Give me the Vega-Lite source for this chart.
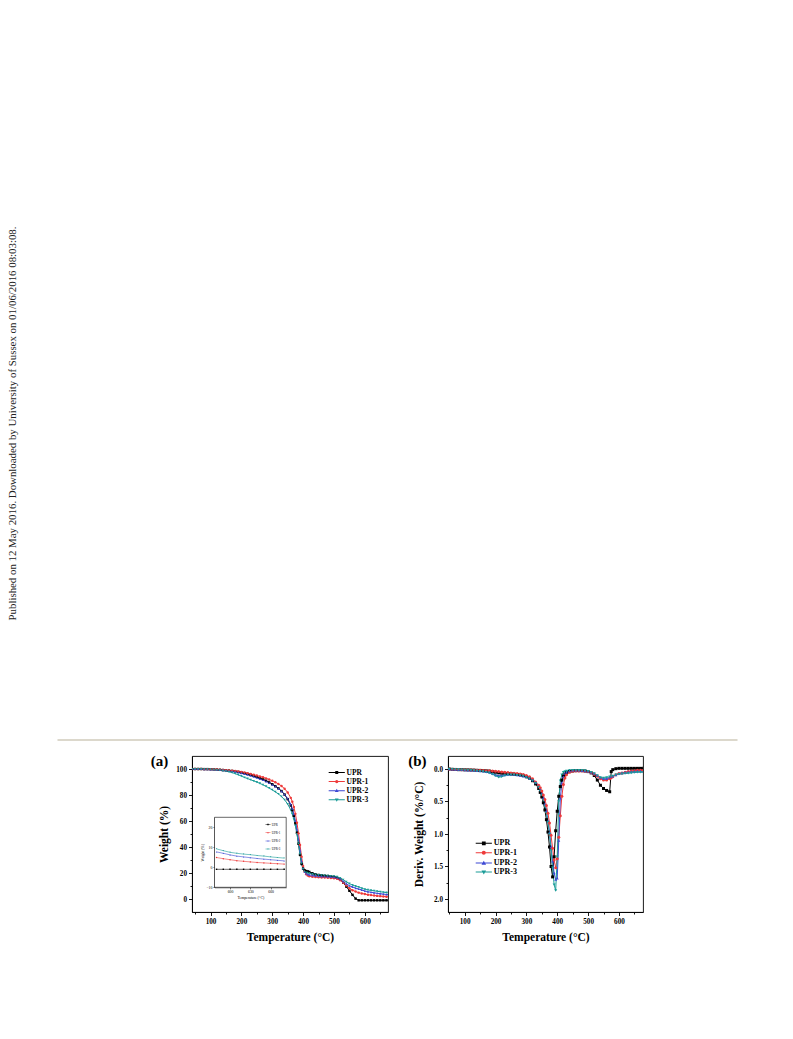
{
  "$schema": "https://vega.github.io/schema/vega-lite/v6.json",
  "background": "white",
  "padding": {"left": 7, "top": 0, "right": 2, "bottom": 2},
  "bounds": "flush",
  "spacing": 11,
  "config": {
    "view": {"stroke": "black", "strokeWidth": 0.9},
    "axis": {
      "domainColor": "black", "domainWidth": 0.9, "tickColor": "black", "tickWidth": 0.9,
      "labelColor": "black", "titleColor": "black", "grid": false,
      "labelFont": "Liberation Serif", "titleFont": "Liberation Serif",
      "labelFontWeight": "bold", "titleFontWeight": "bold",
      "labelFontSize": 7.2, "titleFontSize": 11.5, "labelPadding": 2,
      "labelFlush": false, "labelOverlap": false
    },
    "legend": {"labelFont": "Liberation Serif", "labelColor": "black", "labelFontWeight": "bold"}
  },
  "datasets": {
    "names": [{"series": "UPR"}, {"series": "UPR-1"}, {"series": "UPR-2"}, {"series": "UPR-3"}],
    "tga": [
      {"T": 40, "UPR": 100, "UPR-1": 100, "UPR-2": 100, "UPR-3": 100},
      {"T": 50, "UPR": 100, "UPR-1": 100, "UPR-2": 100, "UPR-3": 100},
      {"T": 60, "UPR": 100, "UPR-1": 100, "UPR-2": 100, "UPR-3": 100},
      {"T": 70, "UPR": 100, "UPR-1": 100, "UPR-2": 100, "UPR-3": 99.9},
      {"T": 80, "UPR": 99.9, "UPR-1": 99.9, "UPR-2": 99.9, "UPR-3": 99.8},
      {"T": 90, "UPR": 99.9, "UPR-1": 99.9, "UPR-2": 99.8, "UPR-3": 99.7},
      {"T": 100, "UPR": 99.8, "UPR-1": 99.8, "UPR-2": 99.7, "UPR-3": 99.6},
      {"T": 110, "UPR": 99.7, "UPR-1": 99.7, "UPR-2": 99.6, "UPR-3": 99.4},
      {"T": 120, "UPR": 99.6, "UPR-1": 99.6, "UPR-2": 99.4, "UPR-3": 99.2},
      {"T": 130, "UPR": 99.4, "UPR-1": 99.5, "UPR-2": 99.3, "UPR-3": 99.0},
      {"T": 140, "UPR": 99.2, "UPR-1": 99.3, "UPR-2": 99.1, "UPR-3": 98.7},
      {"T": 150, "UPR": 99.0, "UPR-1": 99.1, "UPR-2": 98.8, "UPR-3": 98.3},
      {"T": 160, "UPR": 98.8, "UPR-1": 98.9, "UPR-2": 98.5, "UPR-3": 97.8},
      {"T": 170, "UPR": 98.5, "UPR-1": 98.7, "UPR-2": 98.2, "UPR-3": 97.2},
      {"T": 180, "UPR": 98.2, "UPR-1": 98.4, "UPR-2": 97.8, "UPR-3": 96.4},
      {"T": 190, "UPR": 97.8, "UPR-1": 98.1, "UPR-2": 97.3, "UPR-3": 95.5},
      {"T": 200, "UPR": 97.3, "UPR-1": 97.7, "UPR-2": 96.8, "UPR-3": 94.5},
      {"T": 210, "UPR": 96.8, "UPR-1": 97.3, "UPR-2": 96.2, "UPR-3": 93.5},
      {"T": 220, "UPR": 96.2, "UPR-1": 96.8, "UPR-2": 95.6, "UPR-3": 92.6},
      {"T": 230, "UPR": 95.5, "UPR-1": 96.2, "UPR-2": 94.9, "UPR-3": 91.7},
      {"T": 240, "UPR": 94.8, "UPR-1": 95.6, "UPR-2": 94.1, "UPR-3": 90.8},
      {"T": 250, "UPR": 94.0, "UPR-1": 95.0, "UPR-2": 93.3, "UPR-3": 89.9},
      {"T": 260, "UPR": 93.1, "UPR-1": 94.3, "UPR-2": 92.4, "UPR-3": 88.9},
      {"T": 270, "UPR": 92.1, "UPR-1": 93.6, "UPR-2": 91.5, "UPR-3": 87.8},
      {"T": 280, "UPR": 91.0, "UPR-1": 92.8, "UPR-2": 90.5, "UPR-3": 86.6},
      {"T": 290, "UPR": 89.7, "UPR-1": 91.9, "UPR-2": 89.3, "UPR-3": 85.3},
      {"T": 300, "UPR": 88.3, "UPR-1": 90.9, "UPR-2": 88.0, "UPR-3": 83.9},
      {"T": 310, "UPR": 86.8, "UPR-1": 89.8, "UPR-2": 86.6, "UPR-3": 82.4},
      {"T": 320, "UPR": 85.1, "UPR-1": 88.5, "UPR-2": 85.0, "UPR-3": 80.8},
      {"T": 330, "UPR": 83.0, "UPR-1": 86.9, "UPR-2": 83.0, "UPR-3": 78.8},
      {"T": 340, "UPR": 80.3, "UPR-1": 84.8, "UPR-2": 80.5, "UPR-3": 76.3},
      {"T": 350, "UPR": 76.8, "UPR-1": 82.0, "UPR-2": 77.3, "UPR-3": 73.0},
      {"T": 360, "UPR": 72.0, "UPR-1": 77.8, "UPR-2": 72.8, "UPR-3": 68.5},
      {"T": 365, "UPR": 68.5, "UPR-1": 74.8, "UPR-2": 69.5, "UPR-3": 65.3},
      {"T": 370, "UPR": 64.0, "UPR-1": 70.8, "UPR-2": 65.3, "UPR-3": 61.3},
      {"T": 375, "UPR": 58.3, "UPR-1": 65.5, "UPR-2": 60.0, "UPR-3": 56.3},
      {"T": 380, "UPR": 51.0, "UPR-1": 58.7, "UPR-2": 53.5, "UPR-3": 50.0},
      {"T": 385, "UPR": 42.5, "UPR-1": 50.5, "UPR-2": 45.8, "UPR-3": 42.5},
      {"T": 390, "UPR": 34.0, "UPR-1": 41.5, "UPR-2": 37.3, "UPR-3": 34.5},
      {"T": 395, "UPR": 27.0, "UPR-1": 32.5, "UPR-2": 29.0, "UPR-3": 27.5},
      {"T": 400, "UPR": 23.3, "UPR-1": 25.3, "UPR-2": 23.5, "UPR-3": 23.0},
      {"T": 405, "UPR": 22.0, "UPR-1": 21.0, "UPR-2": 20.8, "UPR-3": 21.2},
      {"T": 410, "UPR": 21.5, "UPR-1": 19.0, "UPR-2": 19.6, "UPR-3": 20.5},
      {"T": 415, "UPR": 21.2, "UPR-1": 18.0, "UPR-2": 19.0, "UPR-3": 20.1},
      {"T": 420, "UPR": 20.8, "UPR-1": 17.5, "UPR-2": 18.6, "UPR-3": 19.8},
      {"T": 430, "UPR": 19.8, "UPR-1": 17.1, "UPR-2": 18.1, "UPR-3": 19.2},
      {"T": 440, "UPR": 19.0, "UPR-1": 16.9, "UPR-2": 17.8, "UPR-3": 18.8},
      {"T": 450, "UPR": 18.5, "UPR-1": 16.7, "UPR-2": 17.6, "UPR-3": 18.5},
      {"T": 460, "UPR": 18.2, "UPR-1": 16.6, "UPR-2": 17.4, "UPR-3": 18.3},
      {"T": 470, "UPR": 17.9, "UPR-1": 16.5, "UPR-2": 17.3, "UPR-3": 18.1},
      {"T": 480, "UPR": 17.7, "UPR-1": 16.4, "UPR-2": 17.2, "UPR-3": 17.9},
      {"T": 490, "UPR": 17.4, "UPR-1": 16.2, "UPR-2": 17.0, "UPR-3": 17.7},
      {"T": 500, "UPR": 17.0, "UPR-1": 16.0, "UPR-2": 16.8, "UPR-3": 17.5},
      {"T": 510, "UPR": 16.2, "UPR-1": 15.5, "UPR-2": 16.3, "UPR-3": 17.0},
      {"T": 520, "UPR": 14.8, "UPR-1": 14.5, "UPR-2": 15.3, "UPR-3": 16.2},
      {"T": 530, "UPR": 12.5, "UPR-1": 12.5, "UPR-2": 13.6, "UPR-3": 14.8},
      {"T": 540, "UPR": 9.5, "UPR-1": 10.3, "UPR-2": 11.8, "UPR-3": 13.2},
      {"T": 550, "UPR": 6.3, "UPR-1": 8.3, "UPR-2": 10.2, "UPR-3": 11.8},
      {"T": 560, "UPR": 3.2, "UPR-1": 6.8, "UPR-2": 9.3, "UPR-3": 10.7},
      {"T": 570, "UPR": 0.3, "UPR-1": 5.7, "UPR-2": 8.4, "UPR-3": 9.9},
      {"T": 580, "UPR": -1, "UPR-1": 4.9, "UPR-2": 7.7, "UPR-3": 9.2},
      {"T": 590, "UPR": -1, "UPR-1": 4.3, "UPR-2": 7.0, "UPR-3": 8.3},
      {"T": 600, "UPR": -1, "UPR-1": 3.8, "UPR-2": 6.2, "UPR-3": 7.5},
      {"T": 610, "UPR": -1, "UPR-1": 3.3, "UPR-2": 5.6, "UPR-3": 7.0},
      {"T": 620, "UPR": -1, "UPR-1": 3.0, "UPR-2": 5.2, "UPR-3": 6.6},
      {"T": 630, "UPR": -1, "UPR-1": 2.7, "UPR-2": 4.8, "UPR-3": 6.3},
      {"T": 640, "UPR": -1, "UPR-1": 2.4, "UPR-2": 4.4, "UPR-3": 5.9},
      {"T": 650, "UPR": -1, "UPR-1": 2.2, "UPR-2": 4.1, "UPR-3": 5.6},
      {"T": 660, "UPR": -1, "UPR-1": 2.0, "UPR-2": 3.8, "UPR-3": 5.2},
      {"T": 670, "UPR": -1, "UPR-1": 1.8, "UPR-2": 3.5, "UPR-3": 4.9},
      {"T": 680, "UPR": -1, "UPR-1": 1.6, "UPR-2": 3.2, "UPR-3": 4.6}
    ],
    "dtg": [
      {"T": 40, "UPR": 0, "UPR-1": 0, "UPR-2": 0, "UPR-3": 0},
      {"T": 50, "UPR": 0, "UPR-1": 0, "UPR-2": 0, "UPR-3": 0},
      {"T": 60, "UPR": 0.005, "UPR-1": 0.004, "UPR-2": 0.005, "UPR-3": 0.005},
      {"T": 70, "UPR": 0.007, "UPR-1": 0.006, "UPR-2": 0.008, "UPR-3": 0.008},
      {"T": 80, "UPR": 0.01, "UPR-1": 0.008, "UPR-2": 0.01, "UPR-3": 0.01},
      {"T": 90, "UPR": 0.01, "UPR-1": 0.01, "UPR-2": 0.012, "UPR-3": 0.013},
      {"T": 100, "UPR": 0.012, "UPR-1": 0.011, "UPR-2": 0.015, "UPR-3": 0.015},
      {"T": 110, "UPR": 0.013, "UPR-1": 0.012, "UPR-2": 0.017, "UPR-3": 0.018},
      {"T": 120, "UPR": 0.015, "UPR-1": 0.014, "UPR-2": 0.02, "UPR-3": 0.02},
      {"T": 130, "UPR": 0.017, "UPR-1": 0.016, "UPR-2": 0.022, "UPR-3": 0.025},
      {"T": 140, "UPR": 0.02, "UPR-1": 0.018, "UPR-2": 0.025, "UPR-3": 0.03},
      {"T": 150, "UPR": 0.022, "UPR-1": 0.02, "UPR-2": 0.03, "UPR-3": 0.035},
      {"T": 160, "UPR": 0.025, "UPR-1": 0.022, "UPR-2": 0.035, "UPR-3": 0.04},
      {"T": 170, "UPR": 0.028, "UPR-1": 0.025, "UPR-2": 0.042, "UPR-3": 0.05},
      {"T": 180, "UPR": 0.032, "UPR-1": 0.028, "UPR-2": 0.05, "UPR-3": 0.06},
      {"T": 190, "UPR": 0.04, "UPR-1": 0.032, "UPR-2": 0.07, "UPR-3": 0.08},
      {"T": 200, "UPR": 0.05, "UPR-1": 0.035, "UPR-2": 0.09, "UPR-3": 0.105},
      {"T": 210, "UPR": 0.06, "UPR-1": 0.04, "UPR-2": 0.105, "UPR-3": 0.125},
      {"T": 220, "UPR": 0.065, "UPR-1": 0.045, "UPR-2": 0.1, "UPR-3": 0.12},
      {"T": 230, "UPR": 0.068, "UPR-1": 0.05, "UPR-2": 0.09, "UPR-3": 0.1},
      {"T": 240, "UPR": 0.07, "UPR-1": 0.055, "UPR-2": 0.085, "UPR-3": 0.09},
      {"T": 250, "UPR": 0.075, "UPR-1": 0.06, "UPR-2": 0.085, "UPR-3": 0.09},
      {"T": 260, "UPR": 0.08, "UPR-1": 0.065, "UPR-2": 0.085, "UPR-3": 0.09},
      {"T": 270, "UPR": 0.085, "UPR-1": 0.07, "UPR-2": 0.09, "UPR-3": 0.095},
      {"T": 280, "UPR": 0.09, "UPR-1": 0.075, "UPR-2": 0.1, "UPR-3": 0.1},
      {"T": 290, "UPR": 0.1, "UPR-1": 0.085, "UPR-2": 0.11, "UPR-3": 0.11},
      {"T": 300, "UPR": 0.12, "UPR-1": 0.1, "UPR-2": 0.12, "UPR-3": 0.13},
      {"T": 310, "UPR": 0.14, "UPR-1": 0.12, "UPR-2": 0.14, "UPR-3": 0.15},
      {"T": 320, "UPR": 0.18, "UPR-1": 0.15, "UPR-2": 0.17, "UPR-3": 0.18},
      {"T": 330, "UPR": 0.23, "UPR-1": 0.2, "UPR-2": 0.21, "UPR-3": 0.22},
      {"T": 340, "UPR": 0.3, "UPR-1": 0.25, "UPR-2": 0.27, "UPR-3": 0.28},
      {"T": 345, "UPR": 0.36, "UPR-1": 0.29, "UPR-2": 0.32, "UPR-3": 0.34},
      {"T": 350, "UPR": 0.43, "UPR-1": 0.34, "UPR-2": 0.38, "UPR-3": 0.4},
      {"T": 355, "UPR": 0.52, "UPR-1": 0.4, "UPR-2": 0.45, "UPR-3": 0.48},
      {"T": 360, "UPR": 0.63, "UPR-1": 0.47, "UPR-2": 0.54, "UPR-3": 0.57},
      {"T": 365, "UPR": 0.78, "UPR-1": 0.56, "UPR-2": 0.65, "UPR-3": 0.68},
      {"T": 370, "UPR": 0.97, "UPR-1": 0.68, "UPR-2": 0.8, "UPR-3": 0.82},
      {"T": 375, "UPR": 1.2, "UPR-1": 0.83, "UPR-2": 0.98, "UPR-3": 1.0},
      {"T": 380, "UPR": 1.5, "UPR-1": 1.02, "UPR-2": 1.2, "UPR-3": 1.25},
      {"T": 385, "UPR": 1.66, "UPR-1": 1.22, "UPR-2": 1.42, "UPR-3": 1.52},
      {"T": 390, "UPR": 1.35, "UPR-1": 1.4, "UPR-2": 1.6, "UPR-3": 1.78},
      {"T": 395, "UPR": 0.95, "UPR-1": 1.52, "UPR-2": 1.7, "UPR-3": 1.87},
      {"T": 400, "UPR": 0.65, "UPR-1": 1.38, "UPR-2": 1.68, "UPR-3": 1.35},
      {"T": 405, "UPR": 0.42, "UPR-1": 1.05, "UPR-2": 1.1, "UPR-3": 0.5},
      {"T": 410, "UPR": 0.27, "UPR-1": 0.72, "UPR-2": 0.45, "UPR-3": 0.18},
      {"T": 415, "UPR": 0.17, "UPR-1": 0.42, "UPR-2": 0.22, "UPR-3": 0.09},
      {"T": 420, "UPR": 0.11, "UPR-1": 0.24, "UPR-2": 0.12, "UPR-3": 0.05},
      {"T": 425, "UPR": 0.08, "UPR-1": 0.14, "UPR-2": 0.07, "UPR-3": 0.04},
      {"T": 430, "UPR": 0.06, "UPR-1": 0.09, "UPR-2": 0.05, "UPR-3": 0.03},
      {"T": 440, "UPR": 0.04, "UPR-1": 0.05, "UPR-2": 0.03, "UPR-3": 0.02},
      {"T": 450, "UPR": 0.03, "UPR-1": 0.035, "UPR-2": 0.02, "UPR-3": 0.02},
      {"T": 460, "UPR": 0.025, "UPR-1": 0.03, "UPR-2": 0.02, "UPR-3": 0.02},
      {"T": 470, "UPR": 0.025, "UPR-1": 0.03, "UPR-2": 0.02, "UPR-3": 0.02},
      {"T": 480, "UPR": 0.025, "UPR-1": 0.03, "UPR-2": 0.025, "UPR-3": 0.02},
      {"T": 490, "UPR": 0.03, "UPR-1": 0.035, "UPR-2": 0.03, "UPR-3": 0.025},
      {"T": 500, "UPR": 0.04, "UPR-1": 0.04, "UPR-2": 0.035, "UPR-3": 0.035},
      {"T": 510, "UPR": 0.06, "UPR-1": 0.055, "UPR-2": 0.05, "UPR-3": 0.05},
      {"T": 520, "UPR": 0.1, "UPR-1": 0.08, "UPR-2": 0.07, "UPR-3": 0.07},
      {"T": 530, "UPR": 0.17, "UPR-1": 0.11, "UPR-2": 0.1, "UPR-3": 0.1},
      {"T": 540, "UPR": 0.25, "UPR-1": 0.15, "UPR-2": 0.13, "UPR-3": 0.13},
      {"T": 550, "UPR": 0.3, "UPR-1": 0.17, "UPR-2": 0.15, "UPR-3": 0.14},
      {"T": 560, "UPR": 0.33, "UPR-1": 0.17, "UPR-2": 0.15, "UPR-3": 0.13},
      {"T": 570, "UPR": 0.35, "UPR-1": 0.15, "UPR-2": 0.13, "UPR-3": 0.12},
      {"T": 575, "UPR": 0.04, "UPR-1": 0.135, "UPR-2": 0.12, "UPR-3": 0.115},
      {"T": 580, "UPR": 0.01, "UPR-1": 0.12, "UPR-2": 0.11, "UPR-3": 0.11},
      {"T": 590, "UPR": -0.005, "UPR-1": 0.09, "UPR-2": 0.09, "UPR-3": 0.09},
      {"T": 600, "UPR": -0.01, "UPR-1": 0.07, "UPR-2": 0.07, "UPR-3": 0.08},
      {"T": 610, "UPR": -0.01, "UPR-1": 0.06, "UPR-2": 0.06, "UPR-3": 0.075},
      {"T": 620, "UPR": -0.01, "UPR-1": 0.05, "UPR-2": 0.05, "UPR-3": 0.07},
      {"T": 630, "UPR": -0.01, "UPR-1": 0.04, "UPR-2": 0.045, "UPR-3": 0.065},
      {"T": 640, "UPR": -0.01, "UPR-1": 0.03, "UPR-2": 0.04, "UPR-3": 0.06},
      {"T": 650, "UPR": -0.01, "UPR-1": 0.025, "UPR-2": 0.035, "UPR-3": 0.055},
      {"T": 660, "UPR": -0.01, "UPR-1": 0.02, "UPR-2": 0.03, "UPR-3": 0.05},
      {"T": 670, "UPR": -0.01, "UPR-1": 0.02, "UPR-2": 0.03, "UPR-3": 0.05},
      {"T": 680, "UPR": -0.01, "UPR-1": 0.02, "UPR-2": 0.03, "UPR-3": 0.05}
    ]
  },
  "vconcat": [
    {
      "width": 600,
      "height": 745,
      "view": {"stroke": null},
      "layer": [
        {
          "data": {"values": [{"px": 57, "px2": 737, "py": 740}]},
          "mark": {"type": "rule", "color": "#dcd8cc", "strokeWidth": 2},
          "encoding": {
            "x": {"field": "px", "type": "quantitative", "scale": {"domain": [191.5, 791.5], "nice": false, "zero": false}, "axis": null},
            "x2": {"field": "px2"},
            "y": {"field": "py", "type": "quantitative", "scale": {"domain": [0, 745], "reverse": true, "nice": false, "zero": false}, "axis": null}
          }
        },
        {
          "data": {"values": [{"px": 12.5, "py": 423.5, "note": "Published on 12 May 2016. Downloaded by University of Sussex on 01/06/2016 08:03:08."}]},
          "mark": {"type": "text", "angle": 270, "font": "Liberation Serif", "fontSize": 10.85, "color": "#222222", "align": "center", "baseline": "middle"},
          "encoding": {
            "x": {"field": "px", "type": "quantitative"},
            "y": {"field": "py", "type": "quantitative"},
            "text": {"field": "note"}
          }
        }
      ]
    },
    {
      "bounds": "flush",
      "spacing": 60,
      "hconcat": [
        {
          "width": 196,
          "height": 156,
          "layer": [
            {
              "layer": [
                {
                  "data": {"name": "tga"},
                  "transform": [{"fold": ["UPR", "UPR-1", "UPR-2", "UPR-3"], "as": ["series", "w"]}],
                  "mark": {"type": "line", "strokeWidth": 1, "clip": true},
                  "encoding": {
                    "x": {"field": "T", "type": "quantitative",
                      "scale": {"domain": [40, 675], "nice": false, "zero": false},
                      "axis": {"values": [100, 200, 300, 400, 500, 600], "labelOverlap": false, "tickSize": 3.5,
                        "title": "Temperature (°C)", "titlePadding": 7}},
                    "y": {"field": "w", "type": "quantitative",
                      "scale": {"domain": [-10, 110], "nice": false, "zero": false},
                      "axis": {"values": [0, 20, 40, 60, 80, 100], "labelOverlap": false, "tickSize": 3.5,
                        "title": "Weight (%)", "titlePadding": 6}},
                    "color": {"field": "series", "type": "nominal",
                      "scale": {"domain": ["UPR", "UPR-1", "UPR-2", "UPR-3"], "range": ["#000000", "#ee3a3a", "#3d48d4", "#1b9c98"]},
                      "legend": null}
                  }
                },
                {
                  "data": {"name": "tga"},
                  "transform": [{"fold": ["UPR", "UPR-1", "UPR-2", "UPR-3"], "as": ["series", "w"]}],
                  "mark": {"type": "point", "filled": true, "size": 6, "opacity": 1, "clip": true},
                  "encoding": {
                    "x": {"field": "T", "type": "quantitative", "axis": null},
                    "y": {"field": "w", "type": "quantitative", "axis": null},
                    "color": {"field": "series", "type": "nominal",
                      "scale": {"domain": ["UPR", "UPR-1", "UPR-2", "UPR-3"], "range": ["#000000", "#ee3a3a", "#3d48d4", "#1b9c98"]},
                      "legend": null},
                    "shape": {"field": "series", "type": "nominal",
                      "scale": {"domain": ["UPR", "UPR-1", "UPR-2", "UPR-3"], "range": ["square", "circle", "triangle-up", "triangle-down"]},
                      "legend": null}
                  }
                },
                {
                  "data": {"name": "names"},
                  "mark": {"type": "point", "filled": true, "opacity": 0},
                  "encoding": {
                    "color": {"field": "series", "type": "nominal",
                      "scale": {"domain": ["UPR", "UPR-1", "UPR-2", "UPR-3"], "range": ["#000000", "#ee3a3a", "#3d48d4", "#1b9c98"]},
                      "legend": {"orient": "none", "legendX": 141, "legendY": 12.8, "title": null, "padding": 0, "symbolSize": 29, "symbolOpacity": 1, "labelOffset": 6.1, "labelFontSize": 7.5, "rowPadding": -1.8}},
                    "shape": {"field": "series", "type": "nominal",
                      "scale": {"domain": ["UPR", "UPR-1", "UPR-2", "UPR-3"], "range": [
                        "M-3,-0.17H3V0.17H-3ZM-0.55,-0.55H0.55V0.55H-0.55Z",
                        "M-3,-0.17H3V0.17H-3ZM0.6,0A0.6,0.6,0,1,1,-0.6,0A0.6,0.6,0,1,1,0.6,0Z",
                        "M-3,-0.17H3V0.17H-3ZM0,-0.7L0.7,0.5H-0.7Z",
                        "M-3,-0.17H3V0.17H-3ZM0,0.7L-0.7,-0.5H0.7Z"]},
                      "legend": {"orient": "none", "legendX": 141, "legendY": 12.8, "title": null, "padding": 0, "symbolSize": 29, "symbolOpacity": 1, "labelOffset": 6.1, "labelFontSize": 7.5, "rowPadding": -1.8}}
                  }
                },
                {
                  "data": {"values": [{"T": -65, "w": 106.4, "tag": "(a)"}]},
                  "mark": {"type": "text", "font": "Liberation Serif", "fontWeight": "bold", "fontSize": 15, "align": "center", "baseline": "middle", "color": "black"},
                  "encoding": {
                    "x": {"field": "T", "type": "quantitative",
                      "axis": {"orient": "bottom", "values": [50, 150, 250, 350, 450, 550, 650], "labels": false, "title": null, "domain": false, "tickSize": 2}},
                    "y": {"field": "w", "type": "quantitative",
                      "axis": {"orient": "left", "values": [10, 30, 50, 70, 90], "labels": false, "title": null, "domain": false, "tickSize": 2}},
                    "text": {"field": "tag"}
                  }
                }
              ],
              "resolve": {"scale": {"color": "independent", "shape": "independent"}, "axis": {"x": "independent", "y": "independent"}}
            },
            {
              "layer": [
                {
                  "data": {"values": [{"T": 577, "T2": 683, "w": -10, "w2": 25}]},
                  "mark": {"type": "rect", "fill": "white", "stroke": "black", "strokeWidth": 0.6},
                  "encoding": {
                    "x": {"field": "T", "type": "quantitative",
                      "scale": {"domain": [577, 683], "range": [22.5, 94.2], "nice": false, "zero": false},
                      "axis": {"orient": "bottom", "offset": -24.7,
                        "values": [600, 630, 660], "labelOverlap": false,
                        "labelFontSize": 3.8, "labelFontWeight": "normal", "labelPadding": 1,
                        "tickSize": 1.6, "tickWidth": 0.5, "domainWidth": 0.6,
                        "title": "Temperature (°C)", "titleFontSize": 3.8, "titleFontWeight": "normal", "titlePadding": 1.5}},
                    "x2": {"field": "T2"},
                    "y": {"field": "w", "type": "quantitative",
                      "scale": {"domain": [-10, 25], "range": [131.3, 61.3], "nice": false, "zero": false},
                      "axis": {"orient": "left", "offset": -22.5,
                        "values": [-10, 0, 10, 20], "labelOverlap": false,
                        "labelFontSize": 3.8, "labelFontWeight": "normal", "labelPadding": 1,
                        "tickSize": 1.6, "tickWidth": 0.5, "domainWidth": 0.6,
                        "title": "Weight (%)", "titleFontSize": 3.8, "titleFontWeight": "normal", "titlePadding": 1.5}},
                    "y2": {"field": "w2"}
                  }
                },
                {
                  "data": {"name": "tga"},
                  "transform": [{"filter": "datum.T >= 580"}, {"fold": ["UPR", "UPR-1", "UPR-2", "UPR-3"], "as": ["series", "w"]}],
                  "mark": {"type": "line", "strokeWidth": 0.6},
                  "encoding": {
                    "x": {"field": "T", "type": "quantitative"},
                    "y": {"field": "w", "type": "quantitative"},
                    "color": {"field": "series", "type": "nominal",
                      "scale": {"domain": ["UPR", "UPR-1", "UPR-2", "UPR-3"], "range": ["#000000", "#ee3a3a", "#3d48d4", "#1b9c98"]},
                      "legend": null}
                  }
                },
                {
                  "data": {"name": "tga"},
                  "transform": [{"filter": "datum.T >= 580"}, {"fold": ["UPR", "UPR-1", "UPR-2", "UPR-3"], "as": ["series", "w"]}],
                  "mark": {"type": "point", "filled": true, "size": 2, "opacity": 1},
                  "encoding": {
                    "x": {"field": "T", "type": "quantitative"},
                    "y": {"field": "w", "type": "quantitative"},
                    "color": {"field": "series", "type": "nominal",
                      "scale": {"domain": ["UPR", "UPR-1", "UPR-2", "UPR-3"], "range": ["#000000", "#ee3a3a", "#3d48d4", "#1b9c98"]},
                      "legend": null},
                    "shape": {"field": "series", "type": "nominal",
                      "scale": {"domain": ["UPR", "UPR-1", "UPR-2", "UPR-3"], "range": ["square", "circle", "triangle-up", "triangle-down"]},
                      "legend": null}
                  }
                },
                {
                  "data": {"name": "names"},
                  "mark": {"type": "point", "filled": true, "opacity": 0},
                  "encoding": {
                    "color": {"field": "series", "type": "nominal",
                      "scale": {"domain": ["UPR", "UPR-1", "UPR-2", "UPR-3"], "range": ["#000000", "#ee3a3a", "#3d48d4", "#1b9c98"]},
                      "legend": {"orient": "none", "legendX": 74, "legendY": 66.5, "title": null, "padding": 0, "symbolSize": 4, "symbolOpacity": 1, "labelOffset": 1.8, "labelFontSize": 3, "labelFontWeight": "normal", "rowPadding": 0.2}},
                    "shape": {"field": "series", "type": "nominal",
                      "scale": {"domain": ["UPR", "UPR-1", "UPR-2", "UPR-3"], "range": [
                        "M-2.5,-0.25H2.5V0.25H-2.5ZM-0.7,-0.7H0.7V0.7H-0.7Z",
                        "M-2.5,-0.25H2.5V0.25H-2.5ZM0.75,0A0.75,0.75,0,1,1,-0.75,0A0.75,0.75,0,1,1,0.75,0Z",
                        "M-2.5,-0.25H2.5V0.25H-2.5ZM0,-0.85L0.85,0.6H-0.85Z",
                        "M-2.5,-0.25H2.5V0.25H-2.5ZM0,0.85L-0.85,-0.6H0.85Z"]},
                      "legend": {"orient": "none", "legendX": 74, "legendY": 66.5, "title": null, "padding": 0, "symbolSize": 4, "symbolOpacity": 1, "labelOffset": 1.8, "labelFontSize": 3, "labelFontWeight": "normal", "rowPadding": 0.2}}
                  }
                }
              ],
              "resolve": {"scale": {"color": "independent", "shape": "independent"}}
            }
          ],
          "resolve": {"scale": {"x": "independent", "y": "independent", "color": "independent", "shape": "independent"}}
        },
        {
          "width": 195,
          "height": 156,
          "layer": [
            {
              "data": {"name": "dtg"},
              "transform": [{"fold": ["UPR", "UPR-1", "UPR-2", "UPR-3"], "as": ["series", "d"]}],
              "mark": {"type": "line", "strokeWidth": 1, "clip": true},
              "encoding": {
                "x": {"field": "T", "type": "quantitative",
                  "scale": {"domain": [46, 678], "nice": false, "zero": false},
                  "axis": {"values": [100, 200, 300, 400, 500, 600], "labelOverlap": false, "tickSize": 3.5,
                    "title": "Temperature (°C)", "titlePadding": 7}},
                "y": {"field": "d", "type": "quantitative",
                  "scale": {"domain": [-0.2, 2.2], "reverse": true, "nice": false, "zero": false},
                  "axis": {"values": [0, 0.5, 1, 1.5, 2], "format": ".1f", "labelOverlap": false, "tickSize": 3.5,
                    "title": "Deriv. Weight (%/°C)", "titlePadding": 9}},
                "color": {"field": "series", "type": "nominal",
                  "scale": {"domain": ["UPR", "UPR-1", "UPR-2", "UPR-3"], "range": ["#000000", "#ee3a3a", "#3d48d4", "#1b9c98"]},
                  "legend": null}
              }
            },
            {
              "data": {"name": "dtg"},
              "transform": [{"fold": ["UPR", "UPR-1", "UPR-2", "UPR-3"], "as": ["series", "d"]}],
              "mark": {"type": "point", "filled": true, "size": 9, "opacity": 1, "clip": true},
              "encoding": {
                "x": {"field": "T", "type": "quantitative", "axis": null},
                "y": {"field": "d", "type": "quantitative", "axis": null},
                "color": {"field": "series", "type": "nominal",
                  "scale": {"domain": ["UPR", "UPR-1", "UPR-2", "UPR-3"], "range": ["#000000", "#ee3a3a", "#3d48d4", "#1b9c98"]},
                  "legend": null},
                "shape": {"field": "series", "type": "nominal",
                  "scale": {"domain": ["UPR", "UPR-1", "UPR-2", "UPR-3"], "range": ["square", "circle", "triangle-up", "triangle-down"]},
                  "legend": null}
              }
            },
            {
              "data": {"name": "names"},
              "mark": {"type": "point", "filled": true, "opacity": 0},
              "encoding": {
                "color": {"field": "series", "type": "nominal",
                  "scale": {"domain": ["UPR", "UPR-1", "UPR-2", "UPR-3"], "range": ["#000000", "#ee3a3a", "#3d48d4", "#1b9c98"]},
                  "legend": {"orient": "none", "legendX": 31.8, "legendY": 83.3, "title": null, "padding": 0, "symbolSize": 29, "symbolOpacity": 1, "labelOffset": 6, "labelFontSize": 8, "rowPadding": -1.6}},
                "shape": {"field": "series", "type": "nominal",
                  "scale": {"domain": ["UPR", "UPR-1", "UPR-2", "UPR-3"], "range": [
                    "M-3,-0.18H3V0.18H-3ZM-0.7,-0.7H0.7V0.7H-0.7Z",
                    "M-3,-0.18H3V0.18H-3ZM0.75,0A0.75,0.75,0,1,1,-0.75,0A0.75,0.75,0,1,1,0.75,0Z",
                    "M-3,-0.18H3V0.18H-3ZM0,-0.85L0.85,0.6H-0.85Z",
                    "M-3,-0.18H3V0.18H-3ZM0,0.85L-0.85,-0.6H0.85Z"]},
                  "legend": {"orient": "none", "legendX": 31.8, "legendY": 83.3, "title": null, "padding": 0, "symbolSize": 29, "symbolOpacity": 1, "labelOffset": 6, "labelFontSize": 8, "rowPadding": -1.6}}
              }
            },
            {
              "data": {"values": [{"T": -53, "d": -0.127, "tag": "(b)"}]},
              "mark": {"type": "text", "font": "Liberation Serif", "fontWeight": "bold", "fontSize": 15, "align": "center", "baseline": "middle", "color": "black"},
              "encoding": {
                "x": {"field": "T", "type": "quantitative",
                  "axis": {"orient": "bottom", "values": [50, 150, 250, 350, 450, 550, 650], "labels": false, "title": null, "domain": false, "tickSize": 2}},
                "y": {"field": "d", "type": "quantitative",
                  "axis": {"orient": "left", "values": [0.25, 0.75, 1.25, 1.75], "labels": false, "title": null, "domain": false, "tickSize": 2}},
                "text": {"field": "tag"}
              }
            }
          ],
          "resolve": {"scale": {"color": "independent", "shape": "independent"}, "axis": {"x": "independent", "y": "independent"}}
        }
      ]
    }
  ]
}
